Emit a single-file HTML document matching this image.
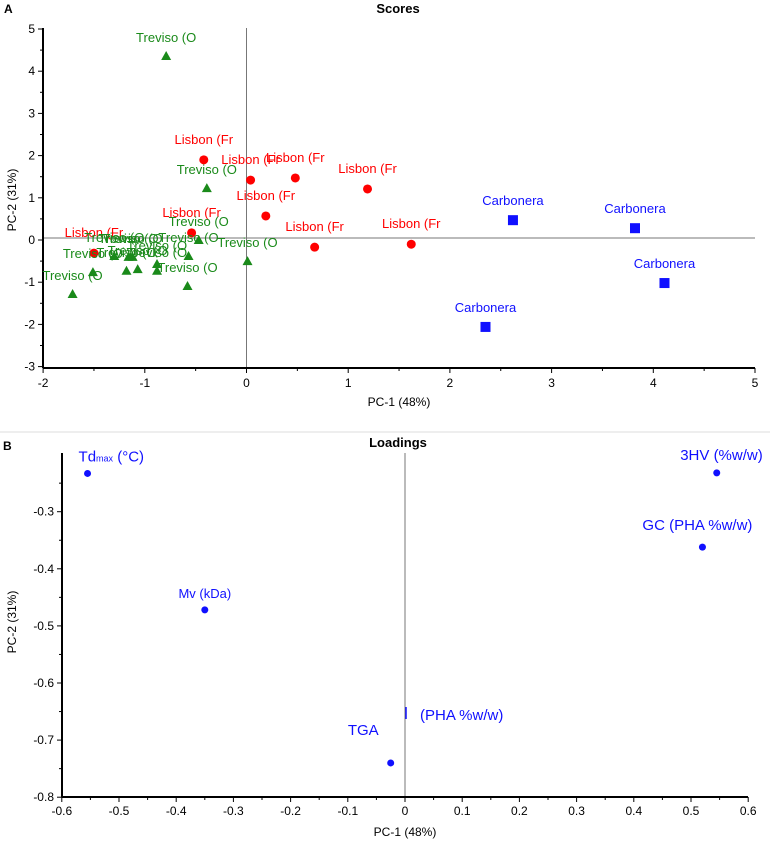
<!DOCTYPE html>
<html><head><meta charset="utf-8"><style>
body{margin:0;background:#fff;}
svg{display:block;font-family:"Liberation Sans",sans-serif;}
</style></head><body>
<svg id="chart" width="770" height="844" viewBox="0 0 770 844" xmlns="http://www.w3.org/2000/svg"></svg>
<script>
// Scores data
const lisbonX=[-0.42,0.04,0.48,0.19,1.19,-0.54,0.67,1.62,-1.5];
const lisbonY=[1.9,1.42,1.47,0.57,1.21,0.17,-0.17,-0.1,-0.31];
const trevisoX=[-0.79,-0.39,-0.47,-0.57,-0.58,0.01,-1.51,-1.71,-1.18,-1.07,-0.88,-0.88,-1.16,-1.12,-1.3];
const trevisoY=[4.36,1.23,0.0,-0.38,-1.09,-0.5,-0.76,-1.28,-0.73,-0.69,-0.73,-0.57,-0.4,-0.4,-0.38];
const carbX=[2.62,3.82,4.11,2.35];
const carbY=[0.47,0.28,-1.02,-2.06];
const scoreXTicks=[-2,-1,0,1,2,3,4,5];
const scoreYTicks=[5,4,3,2,1,0,-1,-2,-3];
// Loadings data
const loadNames=["Td","Mv (kDa)","TGA","3HV (%w/w)","GC (PHA %w/w)"];
const loadX=[-0.555,-0.35,-0.025,0.545,0.52];
const loadY=[-0.233,-0.472,-0.74,-0.232,-0.362];
const loadXTicks=[-0.6,-0.5,-0.4,-0.3,-0.2,-0.1,0,0.1,0.2,0.3,0.4,0.5,0.6];
const loadYTicks=[-0.3,-0.4,-0.5,-0.6,-0.7,-0.8];

const svg=document.getElementById('chart');
const NS='http://www.w3.org/2000/svg';
function mk(tag,attrs,parent){const e=document.createElementNS(NS,tag);for(const k in attrs)e.setAttribute(k,attrs[k]);(parent||svg).appendChild(e);return e;}
function txt(s,attrs,parent){const e=mk('text',attrs,parent);e.textContent=s;return e;}

const sx=v=>246.5+v*101.7, sy=v=>240-v*42.2;
const lx=v=>405+v*572, ly=v=>511.7-(v+0.3)*571;

// ---- Scores panel ----
const gA=mk('g',{});
let t=txt('A',{x:4,y:13,'font-size':12,'font-weight':'bold'},gA);
t=txt('Scores',{x:398,y:13,'font-size':13,'font-weight':'bold','text-anchor':'middle'},gA);
let l=mk('line',{x1:sx(0),x2:sx(0),y1:28,y2:368,stroke:'#777'},gA);
l=mk('line',{x1:43,x2:755,y1:sy(0)-2,y2:sy(0)-2,stroke:'#777'},gA);
l=mk('line',{x1:43,x2:43,y1:28,y2:368,stroke:'#000','stroke-width':2},gA);
l=mk('line',{x1:43,x2:755,y1:368,y2:368,stroke:'#000','stroke-width':2},gA);
scoreXTicks.forEach(v=>{
  mk('line',{x1:sx(v),x2:sx(v),y1:368,y2:373,stroke:'#000'},gA);
  if(v<5) mk('line',{x1:sx(v+0.5),x2:sx(v+0.5),y1:368,y2:371,stroke:'#000'},gA);
  const e=txt(String(v),{x:sx(v),y:387,'font-size':12,'text-anchor':'middle'},gA);
  
  
});
scoreYTicks.forEach(v=>{
  mk('line',{x1:38,x2:43,y1:sy(v),y2:sy(v),stroke:'#000'},gA);
  if(v>-3) mk('line',{x1:40,x2:43,y1:sy(v-0.5),y2:sy(v-0.5),stroke:'#000'},gA);
  const e=txt(String(v),{x:35,y:sy(v)+4,'font-size':12,'text-anchor':'end'},gA);
  
  
});
t=txt('PC-1 (48%)',{x:399,y:406,'font-size':12,'text-anchor':'middle'},gA);
t=txt('PC-2 (31%)',{x:0,y:0,'font-size':12,'text-anchor':'middle',transform:'translate(16,200) rotate(-90)'},gA);

lisbonX.forEach((v,i)=>{
  const c=mk('circle',{cx:sx(v),cy:sy(lisbonY[i]),r:4.5,fill:'#f00'},gA);
  
  
  const e=txt('Lisbon (Fr',{x:sx(v),y:sy(lisbonY[i])-16,'font-size':13,fill:'#f00','text-anchor':'middle'},gA);
  
  
});
trevisoX.forEach((v,i)=>{
  const x=sx(v),y=sy(trevisoY[i]);
  const p=mk('polygon',{points:`${x},${y-5} ${x-5},${y+4} ${x+5},${y+4}`,fill:'#1a8a1a'},gA);
  
  
  const e=txt('Treviso (O',{x:x,y:y-14,'font-size':13,fill:'#1a8a1a','text-anchor':'middle'},gA);
  
  
});
carbX.forEach((v,i)=>{
  const x=sx(v),y=sy(carbY[i]);
  const r=mk('rect',{x:x-5,y:y-5,width:10,height:10,fill:'#1010ff'},gA);
  
  
  const e=txt('Carbonera',{x:x,y:y-15,'font-size':13,fill:'#1010ff','text-anchor':'middle'},gA);
  
  
});

l=mk('line',{x1:0,x2:770,y1:432,y2:432,stroke:'#ddd'});

// ---- Loadings panel ----
const gB=mk('g',{});
t=txt('B',{x:3,y:450,'font-size':12,'font-weight':'bold'},gB);
t=txt('Loadings',{x:398,y:447,'font-size':13,'font-weight':'bold','text-anchor':'middle'},gB);
l=mk('line',{x1:lx(0),x2:lx(0),y1:453,y2:797,stroke:'#777'},gB);
l=mk('line',{x1:62,x2:62,y1:453,y2:797,stroke:'#000','stroke-width':2},gB);
l=mk('line',{x1:62,x2:748,y1:797,y2:797,stroke:'#000','stroke-width':2},gB);
loadXTicks.forEach((v,i)=>{
  mk('line',{x1:lx(v),x2:lx(v),y1:797,y2:802,stroke:'#000'},gB);
  if(i<loadXTicks.length-1) mk('line',{x1:lx(v+0.05),x2:lx(v+0.05),y1:797,y2:800,stroke:'#000'},gB);
  const e=txt(String(v),{x:lx(v),y:815,'font-size':12,'text-anchor':'middle'},gB);
  
  
});
loadYTicks.forEach(v=>{
  mk('line',{x1:57,x2:62,y1:ly(v),y2:ly(v),stroke:'#000'},gB);
  mk('line',{x1:59,x2:62,y1:ly(v+0.05),y2:ly(v+0.05),stroke:'#000'},gB);
  const e=txt(String(v),{x:54,y:ly(v)+4,'font-size':12,'text-anchor':'end'},gB);
  
  
});
t=txt('PC-1 (48%)',{x:405,y:836,'font-size':12,'text-anchor':'middle'},gB);
t=txt('PC-2 (31%)',{x:0,y:0,'font-size':12,'text-anchor':'middle',transform:'translate(16,622) rotate(-90)'},gB);

loadX.forEach((v,i)=>{
  const x=lx(v),y=ly(loadY[i]);
  const c=mk('circle',{cx:x,cy:y,r:3.5,fill:'#1010ff'},gB);
  
  
  let e;
  if(i===0){
    e=mk('text',{x:x-9,y:y-12,'font-size':15,fill:'#1010ff'},gB);
    e.innerHTML='Td<tspan font-size="9">max</tspan> (°C)';
  } else if(i===2){
    e=txt('TGA',{x:x-12,y:y-28,'font-size':15,fill:'#1010ff','text-anchor':'end'},gB);
  } else if(i===1){
    e=txt(loadNames[i],{x:x,y:y-12,'font-size':13,fill:'#1010ff','text-anchor':'middle'},gB);
  } else if(i===3){
    e=txt(loadNames[i],{x:x+46,y:y-13,'font-size':15,fill:'#1010ff','text-anchor':'end'},gB);
  } else {
    e=txt(loadNames[i],{x:x+50,y:y-17,'font-size':15,fill:'#1010ff','text-anchor':'end'},gB);
  }
  
  
});
l=mk('line',{x1:lx(0)+1,x2:lx(0)+1,y1:707,y2:719,stroke:'#1010ff','stroke-width':1.5},gB);
t=txt('(PHA %w/w)',{x:420,y:720,'font-size':15,fill:'#1010ff'},gB);
</script>
</body></html>
